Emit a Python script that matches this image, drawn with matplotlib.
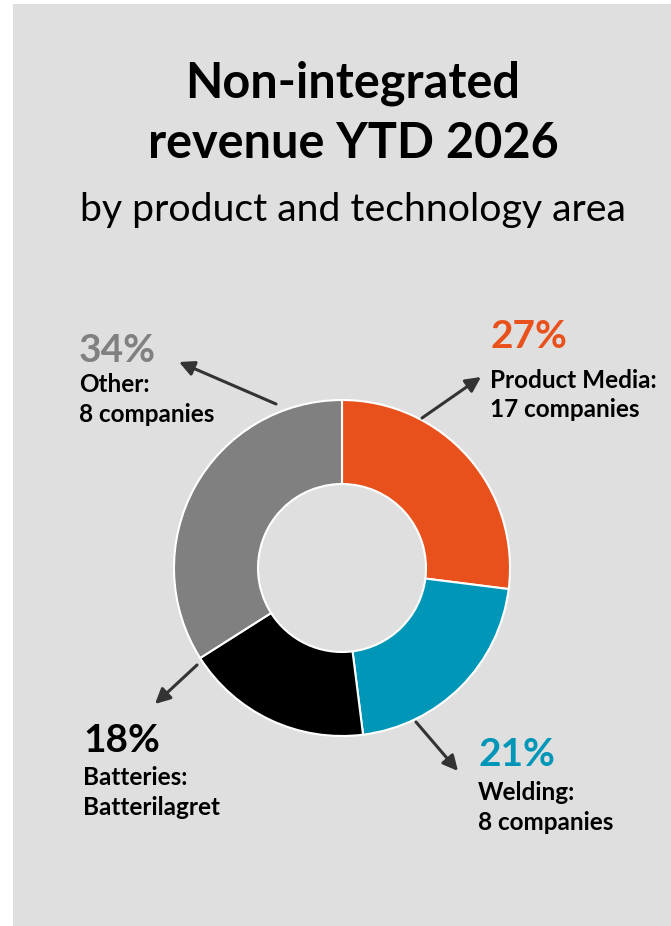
import matplotlib
matplotlib.use("Agg")
import matplotlib.pyplot as plt
from matplotlib.patches import Rectangle

plt.rcParams['font.family'] = ['Lato', 'DejaVu Sans']

# Revenue shares by area (clockwise from 12 o'clock)
areas = ["Product Media", "Welding", "Batteries", "Other"]
shares = [27, 21, 18, 34]
details = ["17 companies", "8 companies", "Batterilagret", "8 companies"]
colors = ["#E9511C", "#0096B8", "#000000", "#808080"]

W, H = 671, 926
fig = plt.figure(figsize=(W / 100, H / 100), dpi=100)
fig.patch.set_facecolor("white")
ax = fig.add_axes([0, 0, 1, 1])


def Y(y):
    """Convert a top-down pixel row to the axes' bottom-up coordinate."""
    return H - y


# Panel background
ax.add_patch(Rectangle((13, 0), W - 13, Y(4), facecolor="#DFDFDF",
                       edgecolor="none", zorder=0))

# Donut
cx, cy, r = 342, Y(568), 168
ax.pie(shares, colors=colors, startangle=90, counterclock=False,
       center=(cx, cy), radius=r,
       wedgeprops=dict(width=r * 0.5, edgecolor="white", linewidth=1.5))

ax.set_xlim(0, W)
ax.set_ylim(0, H)
ax.set_aspect("equal")
ax.axis("off")

# Title block
ax.text(353, Y(98), "Non-integrated", ha="center", va="baseline",
        fontsize=35, fontweight="bold", color="black")
ax.text(353, Y(158), "revenue YTD 2026", ha="center", va="baseline",
        fontsize=35, fontweight="bold", color="black")
ax.text(353, Y(221), "by product and technology area", ha="center",
        va="baseline", fontsize=28.3, color="black")

# Callouts: (x, pct baseline, line1 baseline, line2 baseline)
callouts = {
    "Product Media": (490, 348, 388, 417),
    "Welding": (478, 766, 800, 830),
    "Batteries": (83, 752, 785, 815),
    "Other": (79, 362, 392, 422),
}
for name, share, det, col in zip(areas, shares, details, colors):
    x, yp, y1, y2 = callouts[name]
    ax.text(x, Y(yp), f"{share}%", ha="left", va="baseline", fontsize=28,
            fontweight="bold", color=col)
    ax.text(x, Y(y1), f"{name}:", ha="left", va="baseline", fontsize=17.5,
            fontweight="bold", color="black")
    ax.text(x, Y(y2), det, ha="left", va="baseline", fontsize=17.5,
            fontweight="bold", color="black")

# Pointer arrows from the ring out to each callout
arrows = [
    ((422, 418), (481, 377)),
    ((416, 722), (458, 771)),
    ((197, 665), (155, 704)),
    ((276, 404), (179, 362)),
]
for (x0, y0), (x1, y1) in arrows:
    ax.annotate("", xy=(x1, Y(y1)), xytext=(x0, Y(y0)),
                arrowprops=dict(arrowstyle="-|>,head_length=0.9,head_width=0.45",
                                color="#333333", lw=2.2, shrinkA=0, shrinkB=0))

fig.savefig("out.png", dpi=100, facecolor=fig.get_facecolor())
